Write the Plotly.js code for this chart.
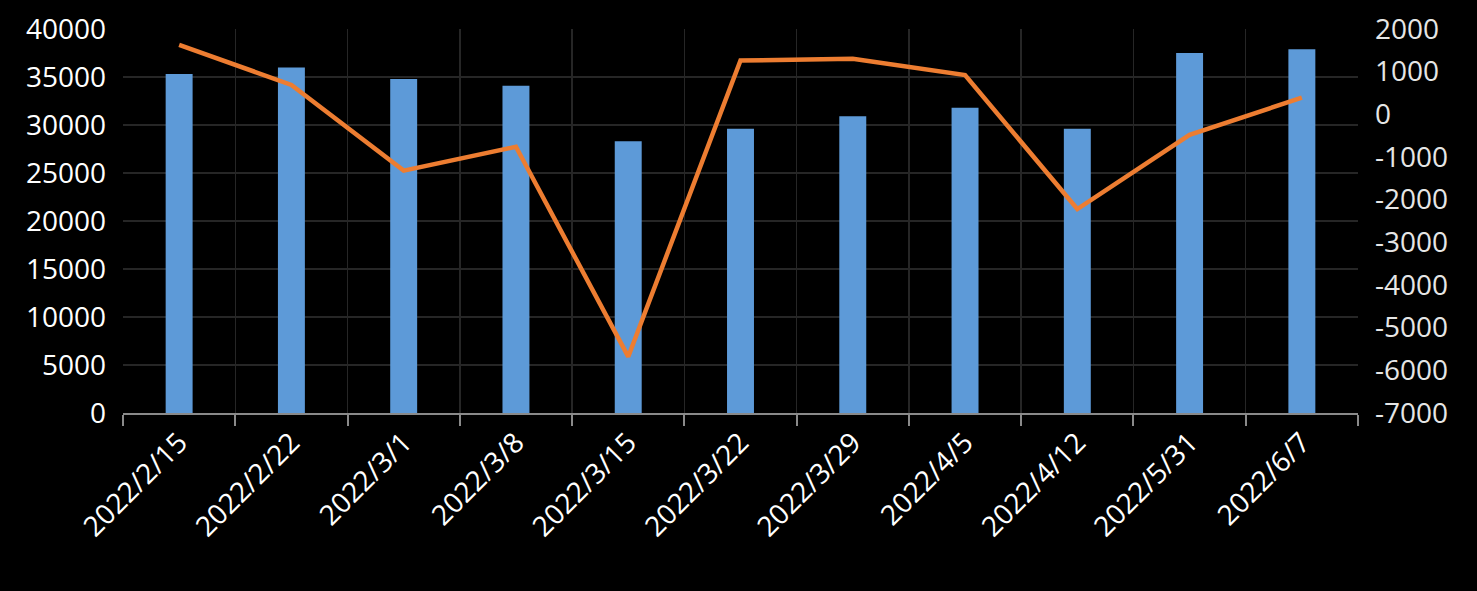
<!DOCTYPE html>
<html>
<head>
<meta charset="utf-8">
<script src="https://cdn.plot.ly/plotly-3.0.1.min.js"></script>
<style>html,body{margin:0;padding:0;background:#000;}#chart{width:1477px;height:591px;}</style>
</head>
<body>
<div id="chart"></div>
<script>
const categories = ["2022/2/15","2022/2/22","2022/3/1","2022/3/8","2022/3/15","2022/3/22","2022/3/29","2022/4/5","2022/4/12","2022/5/31","2022/6/7"];
const barValues = [35300, 36000, 34800, 34100, 28300, 29600, 30900, 31800, 29600, 37500, 37900];
const lineValues = [1630, 690, -1320, -760, -5680, 1260, 1300, 920, -2220, -480, 390];
const leftTicks = [0, 5000, 10000, 15000, 20000, 25000, 30000, 35000, 40000];
const rightTicks = [-7000, -6000, -5000, -4000, -3000, -2000, -1000, 0, 1000, 2000];

const fontFam = '"Open Sans", "Noto Sans", sans-serif';
const data = [
  {
    type: 'bar', x: categories, y: barValues, yaxis: 'y',
    marker: {color: '#5d9ad8'}, width: 0.24, hoverinfo: 'x+y'
  },
  {
    type: 'scatter', mode: 'lines', x: categories, y: lineValues, yaxis: 'y2',
    line: {color: '#ed7d31', width: 4.5}
  }
];
const layout = {
  width: 1477, height: 591,
  paper_bgcolor: '#000', plot_bgcolor: '#000',
  margin: {l: 123, r: 119, t: 29, b: 178},
  showlegend: false,
  font: {family: fontFam, color: '#ffffff', size: 28},
  xaxis: {
    type: 'category', tickson: 'boundaries',
    showgrid: true, gridcolor: '#262626', gridwidth: 1.5,
    showline: true, linecolor: '#8a8a8a', linewidth: 2,
    ticks: 'outside', ticklen: 11, tickcolor: '#8a8a8a', tickwidth: 2,
    tickangle: -45, tickfont: {size: 28, color: '#ffffff', family: fontFam},
    range: [-0.5, 10.5]
  },
  yaxis: {
    range: [0, 40000], tickvals: leftTicks, ticktext: leftTicks.map(String),
    showgrid: true, gridcolor: '#262626', gridwidth: 1.5, zeroline: false,
    showline: false, ticks: '', ticklabelstandoff: 16,
    tickfont: {size: 28, color: '#ffffff', family: fontFam}
  },
  yaxis2: {
    overlaying: 'y', side: 'right',
    range: [-7000, 2000], tickvals: rightTicks, ticktext: rightTicks.map(v => v < 0 ? '-' + Math.abs(v) : String(v)),
    showgrid: false, zeroline: false, showline: false, ticks: '', ticklabelstandoff: 16,
    tickfont: {size: 28, color: '#e6e6e6', family: fontFam}
  }
};
Plotly.newPlot('chart', data, layout, {displayModeBar: false, staticPlot: true});
</script>
</body>
</html>
